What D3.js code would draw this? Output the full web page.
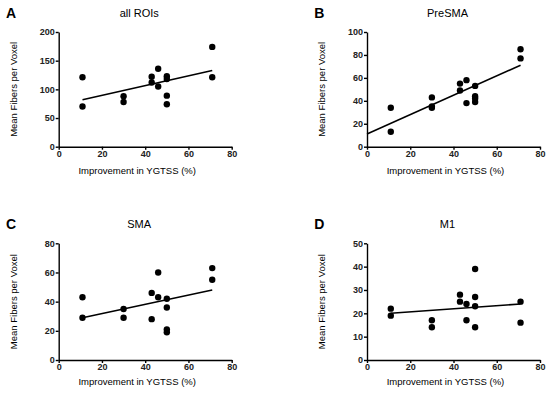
<!DOCTYPE html>
<html>
<head>
<meta charset="utf-8">
<script src="https://cdn.jsdelivr.net/npm/d3@7"></script>
<style>
  body { margin: 0; background: #fff; }
  svg { font-family: "Liberation Sans", Arial, sans-serif; }
  .tick text { font-size: 9px; font-weight: bold; fill: #222; }
  .domain, .tick line { stroke: #000; stroke-width: 1.4px; }
</style>
</head>
<body>
<svg id="chart" width="550" height="394"></svg>
<script>
// improvement in YGTSS (%) for each subject, same order in every panel
var xA = [11, 11, 30, 30, 43, 43, 46, 46, 50, 50, 50, 50, 71, 71];
var yA = [121, 70, 88, 78, 122, 112, 136, 105, 123, 118, 89, 74, 174, 121];

var xB = [11, 11, 30, 30, 30, 43, 43, 46, 46, 50, 50, 50, 50, 71, 71];
var yB = [34, 13, 43, 35, 34, 55, 49, 58, 38, 53, 44, 42, 39, 85, 77];

var xC = [11, 11, 30, 30, 43, 43, 46, 46, 50, 50, 50, 50, 71, 71];
var yC = [43, 29, 35, 29, 46, 28, 60, 43, 42, 36, 21, 19, 63, 55];

var xD = [11, 11, 30, 30, 43, 43, 46, 46, 50, 50, 50, 50, 71, 71];
var yD = [22, 19, 17, 14, 28, 25, 24, 17, 39, 27, 23, 14, 25, 16];

// regression line ends: [x0, y0, x1, y1]
var fitA = [11, 82, 71, 133];
var fitB = [0, 11, 71, 71];
var fitC = [11, 29, 71, 48];
var fitD = [11, 20, 71, 24];

var letters = ["A", "B", "C", "D"];
var titles = ["all ROIs", "PreSMA", "SMA", "M1"];
var yMax = [200, 100, 80, 50];
var yStep = [50, 20, 20, 10];
var xTicks = [0, 20, 40, 60, 80];

var panels = [
    {x: xA, y: yA, fit: fitA},
    {x: xB, y: yB, fit: fitB},
    {x: xC, y: yC, fit: fitC},
    {x: xD, y: yD, fit: fitD}
];

var svg = d3.select("#chart");

// plot area for each panel
var boxes = [
    {l: 58.7, t: 32, b: 146.7, ox: 0, oy: 0},
    {l: 367, t: 32, b: 146.7, ox: 308.3, oy: 0},
    {l: 58.7, t: 243.3, b: 360, ox: 0, oy: 211.3},
    {l: 367, t: 243.3, b: 360, ox: 308.3, oy: 211.3}
];
var plotW = 173;

panels.forEach(function(p, i){
    var b = boxes[i];
    var g = svg.append("g");

    var x = d3.scaleLinear().domain([0, 80]).range([b.l, b.l + plotW]);
    var y = d3.scaleLinear().domain([0, yMax[i]]).range([b.b, b.t]);

    var yTicks = d3.range(0, yMax[i] + 1, yStep[i]);

    g.append("g")
        .attr("transform", "translate(0," + b.b + ")")
        .call(d3.axisBottom(x).tickValues(xTicks).tickSize(3).tickPadding(1).tickSizeOuter(0));

    g.append("g")
        .attr("transform", "translate(" + b.l + ",0)")
        .call(d3.axisLeft(y).tickValues(yTicks).tickSize(3).tickPadding(1).tickSizeOuter(0));

    g.selectAll(".dot")
        .data(p.x)
        .enter()
        .append("circle")
        .attr("class", "dot")
        .attr("cx", function(d) { return x(d); })
        .attr("cy", function(d, j) { return y(p.y[j]); })
        .attr("r", 3.2)
        .style("fill", "#000");

    g.append("line")
        .attr("x1", x(p.fit[0])).attr("y1", y(p.fit[1]))
        .attr("x2", x(p.fit[2])).attr("y2", y(p.fit[3]))
        .style("stroke", "#000")
        .style("stroke-width", 1.6);

    // panel letter
    g.append("text")
        .attr("x", 6 + b.ox)
        .attr("y", 18 + b.oy)
        .attr("font-size", "14px")
        .attr("font-weight", "bold")
        .text(letters[i]);

    // title
    g.append("text")
        .attr("x", b.l + plotW / 2 - 6)
        .attr("y", 17 + b.oy)
        .attr("text-anchor", "middle")
        .attr("font-size", "11px")
        .text(titles[i]);

    g.append("text")
        .attr("x", b.l + plotW / 2 - 8)
        .attr("y", 174 + b.oy)
        .attr("text-anchor", "middle")
        .attr("font-size", "9.5px")
        .text("Improvement in YGTSS (%)");

    g.append("text")
        .attr("transform", "translate(" + (17 + b.ox) + "," + ((b.t + b.b) / 2) + ") rotate(-90)")
        .attr("text-anchor", "middle")
        .attr("font-size", "9.5px")
        .text("Mean Fibers per Voxel");
});
</script>
</body>
</html>
